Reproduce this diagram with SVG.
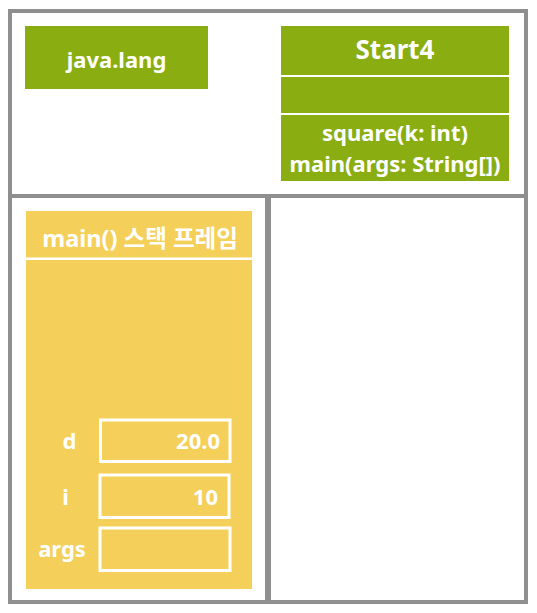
<svg xmlns="http://www.w3.org/2000/svg" width="537" height="613" viewBox="0 0 537 613">
<style>
.frame{fill:#ffffff;stroke:#8f8f8f;stroke-width:4}
.green{fill:#8aad12}
.yellow{fill:#f4d05a}
.sep{stroke:#ffffff;stroke-width:2}
.slot{fill:none;stroke:#ffffff;stroke-width:3}
text{font-family:"Noto Sans","Noto Sans CJK KR",sans-serif;font-weight:bold;fill:#ffffff;font-size:22px}
.c{text-anchor:middle}
.r{text-anchor:end}
</style>
<rect width="537" height="613" fill="#ffffff"/>
<g id="method-area">
<rect class="frame" x="10" y="11" width="516" height="185"/>
</g>
<g id="stack-area">
<rect class="frame" x="10" y="196" width="257" height="406"/>
</g>
<g id="heap-area">
<rect class="frame" x="269" y="196" width="257" height="406"/>
</g>
<g id="java-lang">
<rect class="green" x="25" y="26" width="183" height="63"/>
<text class="c" x="116.5" y="68">java.lang</text>
</g>
<g id="start4">
<rect class="green" x="281" y="26" width="228" height="155"/>
<line class="sep" x1="281" y1="76" x2="509" y2="76"/>
<line class="sep" x1="281" y1="114" x2="509" y2="114"/>
<text class="c" x="395" y="59" style="font-size:26px">Start4</text>
<text class="c" x="395" y="141">square(k: int)</text>
<text class="c" x="395" y="171.5">main(args: String[])</text>
</g>
<g id="main-frame">
<rect class="yellow" x="26" y="211" width="226" height="378"/>
<line x1="26" y1="258.7" x2="252" y2="258.7" stroke="#ffffff" stroke-width="2.5"/>
<text class="c" x="140" y="247" style="font-size:23.5px">main() 스택 프레임</text>
</g>
<g id="var-d">
<text class="c" x="69.5" y="449">d</text>
<rect class="slot" x="100.5" y="420" width="129.5" height="41.5"/>
<text class="r" x="220" y="449">20.0</text>
</g>
<g id="var-i">
<text class="c" x="65.5" y="505">i</text>
<rect class="slot" x="100" y="475" width="129" height="42.5"/>
<text class="r" x="218" y="505">10</text>
</g>
<g id="var-args">
<text class="c" x="62" y="557">args</text>
<rect class="slot" x="100" y="528" width="130" height="42.5"/>
</g>
<g id="connectors"></g>
</svg>
